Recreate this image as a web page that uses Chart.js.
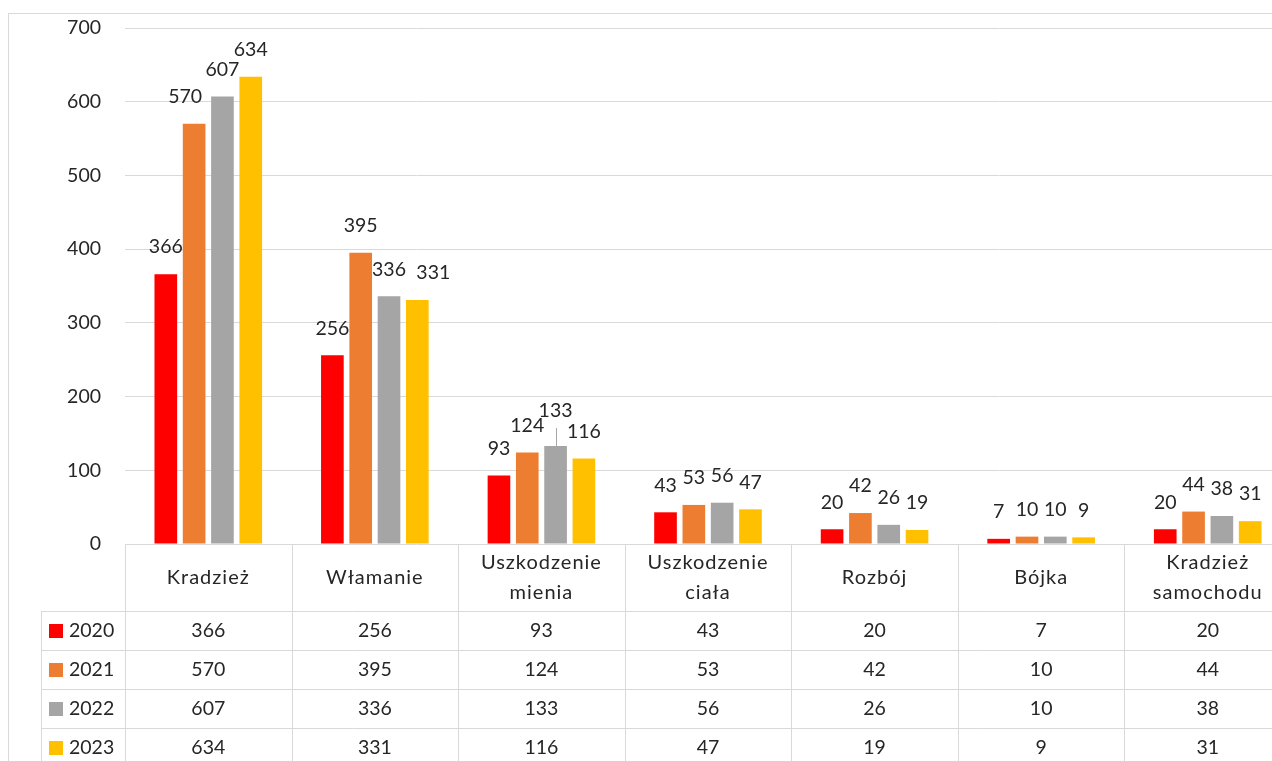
<!DOCTYPE html>
<html lang="pl">
<head>
<meta charset="utf-8">
<title>Przestępstwa 2020–2023</title>
<script src="https://cdn.jsdelivr.net/npm/chart.js@4/dist/chart.umd.min.js"></script>
<style>
  html, body { margin: 0; padding: 0; background: #fff; overflow: hidden; }
  #wrap { position: relative; width: 1272px; height: 761px; overflow: hidden; }
  canvas { display: block; }
</style>
</head>
<body>
<div id="wrap"><canvas id="crimeChart" width="1300" height="761"></canvas></div>
<script>
// ================= DATA =================
const categories = [
  "Kradzież",
  "Włamanie",
  ["Uszkodzenie", "mienia"],
  ["Uszkodzenie", "ciała"],
  "Rozbój",
  "Bójka",
  ["Kradzież", "samochodu"]
];
const years = ["2020", "2021", "2022", "2023"];
const values2020 = [366, 256, 93, 43, 20, 7, 20];
const values2021 = [570, 395, 124, 53, 42, 10, 44];
const values2022 = [607, 336, 133, 56, 26, 10, 38];
const values2023 = [634, 331, 116, 47, 19, 9, 31];
const yTicks = [0, 100, 200, 300, 400, 500, 600, 700];

const seriesValues = [values2020, values2021, values2022, values2023];
const seriesColors = ["#FF0000", "#ED7D31", "#A5A5A5", "#FFC000"];

// labels that were moved aside so they don't collide ("dataset-index")
const labelShift = {
  "1-0": { dx: -9, dy: 0 },
  "3-1": { dx: 16, dy: 0 },
  "2-2": { dx: 0, dy: -8, leader: true }
};

const TEXT = "#262626";
const LINE = "#d9d9d9";
const FONT = "Lato, 'Open Sans', sans-serif";
Chart.defaults.font.family = FONT;
Chart.defaults.font.size = 19;
Chart.defaults.color = TEXT;

// ================= VALUE LABELS =================
const valueLabels = {
  id: "valueLabels",
  afterDatasetsDraw(chart) {
    const ctx = chart.ctx;
    ctx.save();
    ctx.font = "19.5px " + FONT;
    ctx.fillStyle = TEXT;
    ctx.textAlign = "center";
    ctx.textBaseline = "middle";
    chart.data.datasets.forEach((ds, d) => {
      chart.getDatasetMeta(d).data.forEach((bar, i) => {
        const s = labelShift[d + "-" + i] || { dx: 0, dy: 0 };
        const y = bar.y - 27 + s.dy;
        if (s.leader) {
          ctx.strokeStyle = "#a6a6a6";
          ctx.lineWidth = 1;
          ctx.beginPath();
          ctx.moveTo(Math.round(bar.x) + 0.5, bar.y - 18);
          ctx.lineTo(Math.round(bar.x) + 0.5, bar.y);
          ctx.stroke();
        }
        ctx.fillText(String(ds.data[i]), bar.x + s.dx, y);
      });
    });
    ctx.restore();
  }
};

// ================= FRAME + DATA TABLE =================
const dataTable = {
  id: "dataTable",
  afterDraw(chart) {
    const ctx = chart.ctx;
    const area = chart.chartArea;
    const n = categories.length;
    const colW = (area.right - area.left) / n;
    const top = area.bottom;
    const headH = 67;
    const rowH = 39;
    const keyLeft = 41;
    const bottom = chart.height + 10;

    ctx.save();
    // outer frame
    ctx.strokeStyle = LINE;
    ctx.lineWidth = 1;
    ctx.strokeRect(8.5, 13.5, chart.width + 20, chart.height + 20);

    // grid of the table
    ctx.beginPath();
    for (let i = 0; i <= n; i++) {
      const x = Math.round(area.left + i * colW) + 0.5;
      ctx.moveTo(x, top);
      ctx.lineTo(x, bottom);
    }
    ctx.moveTo(keyLeft + 0.5, top + headH);
    ctx.lineTo(keyLeft + 0.5, bottom);
    for (let r = 0; r < years.length; r++) {
      const y = Math.round(top + headH + r * rowH) + 0.5;
      ctx.moveTo(keyLeft, y);
      ctx.lineTo(area.right, y);
    }
    ctx.stroke();

    ctx.fillStyle = TEXT;
    ctx.textAlign = "center";
    ctx.textBaseline = "middle";

    // category header
    ctx.font = "20px " + FONT;
    ctx.letterSpacing = "1px";
    categories.forEach((cat, i) => {
      const cx = area.left + (i + 0.5) * colW;
      const cy = top + headH / 2;
      const lines = Array.isArray(cat) ? cat : [cat];
      lines.forEach((t, k) => {
        ctx.fillText(t, cx, cy + (k - (lines.length - 1) / 2) * 30);
      });
    });
    ctx.letterSpacing = "0px";

    // rows: legend key + values
    ctx.font = "19.5px " + FONT;
    years.forEach((yr, r) => {
      const cy = top + headH + r * rowH + rowH / 2;
      ctx.fillStyle = seriesColors[r];
      ctx.fillRect(49, Math.round(cy - 7), 14, 14);
      ctx.fillStyle = TEXT;
      ctx.textAlign = "left";
      ctx.fillText(yr, 69, cy);
      ctx.textAlign = "center";
      seriesValues[r].forEach((v, i) => {
        ctx.fillText(String(v), area.left + (i + 0.5) * colW, cy);
      });
    });
    ctx.restore();
  }
};

// ================= CHART =================
const ctx = document.getElementById("crimeChart").getContext("2d");

new Chart(ctx, {
  type: "bar",
  data: {
    labels: categories,
    datasets: years.map((yr, k) => ({
      label: yr,
      data: seriesValues[k],
      backgroundColor: seriesColors[k],
      categoryPercentage: 0.68,
      barPercentage: 0.8
    }))
  },
  options: {
    responsive: false,
    animation: false,
    devicePixelRatio: 1,
    layout: {
      autoPadding: false,
      padding: { top: 28, bottom: 217, left: 0, right: 9 }
    },
    plugins: {
      legend: { display: false },
      tooltip: { enabled: false }
    },
    scales: {
      x: { display: false },
      y: {
        min: 0,
        max: 700,
        afterBuildTicks: scale => {
          scale.ticks = yTicks.map(v => ({ value: v }));
        },
        afterFit: scale => {
          scale.width = 125;
          scale.paddingTop = 0;
          scale.paddingBottom = 0;
        },
        ticks: { padding: 24, color: TEXT, font: { size: 19.5 } },
        grid: { color: LINE, drawTicks: false, lineWidth: 1 },
        border: { display: false }
      }
    }
  },
  plugins: [valueLabels, dataTable]
});
</script>
</body>
</html>
